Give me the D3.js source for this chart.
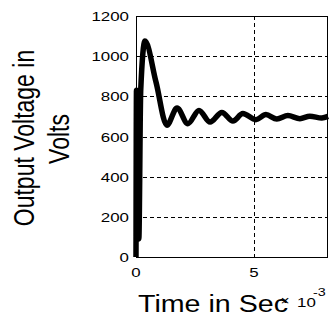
<!DOCTYPE html>
<html>
<head>
<meta charset="utf-8">
<script src="https://cdn.jsdelivr.net/npm/d3@7"></script>
<style>
  body { margin: 0; background: #fff; }
  text { font-family: Arial, "Liberation Sans", sans-serif; fill: #000; }
</style>
</head>
<body>
<div id="chart"></div>
<script>
// time in seconds, voltage in volts
var timeSec = [0, 0.00002, 0.00012, 0.0002, 0.00038, 0.00085, 0.00131, 0.00174, 0.0022, 0.00267,
    0.00314, 0.00364, 0.00411, 0.00453, 0.00508, 0.00551, 0.00597, 0.00644, 0.00695, 0.00737,
    0.00788, 0.00814];
var voltage = [0, 830, 90, 830, 1075, 870, 656, 742, 664, 730,
    672, 720, 677, 714, 684, 709, 687, 704, 689, 701,
    692, 700];
var yTicks = [0, 200, 400, 600, 800, 1000, 1200];
var xTicks = [0, 0.005];

var data = timeSec.map((t, i) => ({t: t, v: voltage[i]}));

var width = 330,
    height = 320,
    plot = {left: 136, right: 328, top: 16, bottom: 257},
    stretch = 1.3;

var svg = d3.select("#chart")
    .append("svg")
    .attr("width", width)
    .attr("height", height);

var xScale = d3.scaleLinear().domain([0, 0.00814]).range([plot.left, plot.right]);
var yScale = d3.scaleLinear().domain([0, 1200]).range([plot.bottom, plot.top]);

// grid
svg.append("g")
    .selectAll("line")
    .data(yTicks.slice(1, -1))
    .enter().append("line")
    .attr("x1", xScale(0))
    .attr("x2", xScale(0.00814))
    .attr("y1", d => Math.round(yScale(d)) + 0.5)
    .attr("y2", d => Math.round(yScale(d)) + 0.5)
    .attr("stroke", "#000")
    .attr("stroke-width", 1)
    .attr("stroke-dasharray", "4,3");

svg.append("g")
    .selectAll("line")
    .data(xTicks.slice(1))
    .enter().append("line")
    .attr("x1", d => Math.round(xScale(d)) + 0.5)
    .attr("x2", d => Math.round(xScale(d)) + 0.5)
    .attr("y1", yScale(1200))
    .attr("y2", yScale(0))
    .attr("stroke", "#000")
    .attr("stroke-width", 1)
    .attr("stroke-dasharray", "4,3");

// the curve
var line = d3.line()
    .x(d => xScale(d.t))
    .y(d => yScale(d.v))
    .curve(d3.curveMonotoneX);

svg.append("path")
    .datum(data)
    .attr("d", line)
    .attr("fill", "none")
    .attr("stroke", "#000")
    .attr("stroke-width", 5.5)
    .attr("stroke-linejoin", "round");

// frame
svg.append("rect")
    .attr("x", xScale(0) + 0.5)
    .attr("y", yScale(1200) + 0.5)
    .attr("width", xScale(0.00814) - xScale(0) - 1)
    .attr("height", yScale(0) - yScale(1200))
    .attr("fill", "none")
    .attr("stroke", "#000")
    .attr("stroke-width", 1);

// y tick labels
svg.append("g")
    .selectAll("text")
    .data(yTicks)
    .enter().append("text")
    .attr("transform", d => `translate(129,${yScale(d) + 5}) scale(${stretch},1)`)
    .attr("text-anchor", "end")
    .style("font-size", "13px")
    .text(d => d);

// x tick labels
svg.append("g")
    .selectAll("text")
    .data(xTicks)
    .enter().append("text")
    .attr("transform", d => `translate(${xScale(d)},277) scale(${stretch},1)`)
    .attr("text-anchor", "middle")
    .style("font-size", "13px")
    .text(d => d * 1000);

// exponent
svg.append("text")
    .attr("transform", `translate(285,305) scale(${stretch},1)`)
    .attr("text-anchor", "middle")
    .style("font-size", "12px")
    .text("\u00d7");
svg.append("text")
    .attr("transform", `translate(297,307) scale(${stretch},1)`)
    .style("font-size", "13px")
    .text("10");
svg.append("text")
    .attr("transform", `translate(313,296) scale(${stretch},1)`)
    .style("font-size", "11px")
    .text("-3");

// axis labels
svg.append("text")
    .attr("x", 138)
    .attr("y", 312)
    .attr("textLength", 150)
    .attr("lengthAdjust", "spacingAndGlyphs")
    .style("font-size", "23px")
    .text("Time in Sec");

svg.append("text")
    .attr("transform", `translate(34,138) scale(${stretch},1) rotate(-90)`)
    .attr("text-anchor", "middle")
    .style("font-size", "23px")
    .text("Output Voltage in");

svg.append("text")
    .attr("transform", `translate(69,139) scale(${stretch},1) rotate(-90)`)
    .attr("text-anchor", "middle")
    .style("font-size", "23px")
    .text("Volts");
</script>
</body>
</html>
